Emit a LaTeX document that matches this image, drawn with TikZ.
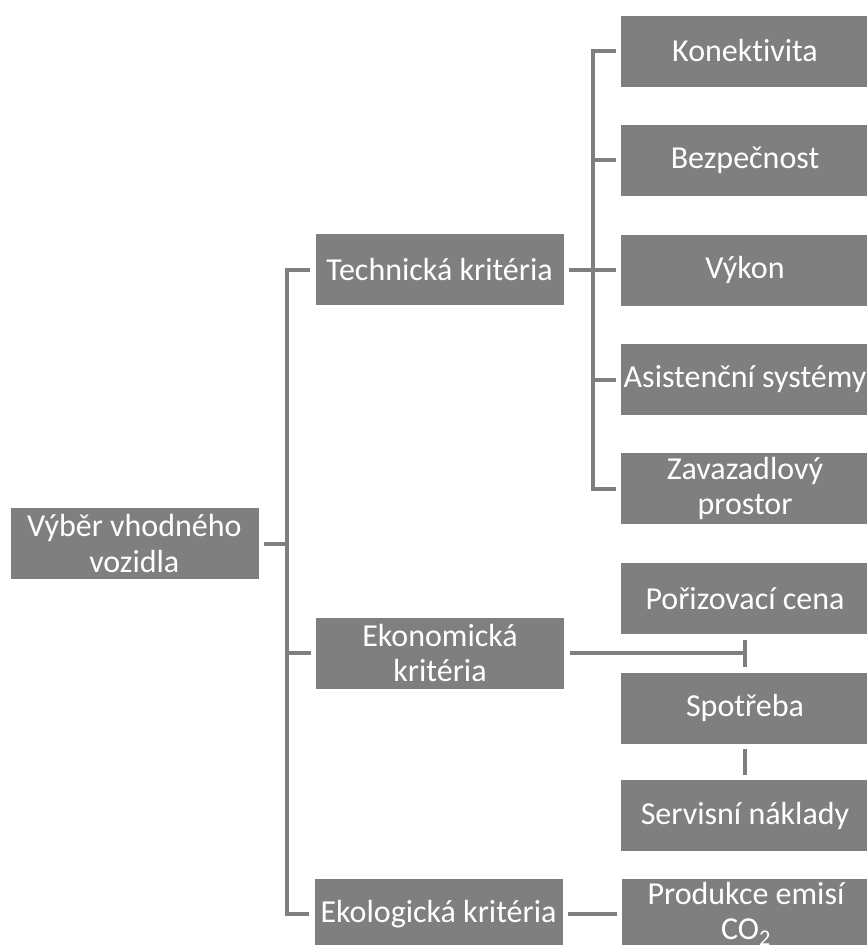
\documentclass[tikz,border=0pt]{standalone}
\usepackage{fontspec}
\setmainfont[Ligatures=NoCommon]{Carlito}
\definecolor{boxgray}{HTML}{7F7F7F}
\tikzset{
  box/.style={rectangle, fill=boxgray, draw=white, line width=0.6pt, text=white,
    minimum width=249pt, minimum height=72pt, inner sep=0pt, outer sep=5pt,
    align=center, font=\fontsize{32}{35.5}\selectfont},
  conn/.style={draw=boxgray, line width=4pt, line join=miter}
}
\begin{document}
\begin{tikzpicture}[x=1pt,y=-1pt]
\clip (0,0) rectangle (867,945);
\fill[white] (0,0) rectangle (867,945);
% nodes
\node[box] (root) at (134.3,543.5) {Výběr vhodného\\vozidla};
\node[box] (tech) at (439.5,269.5) {Technická kritéria};
\node[box] (econ) at (440,653) {Ekonomická\\kritéria};
\node[box] (eco) at (438.5,914) {Ekologická kritéria};
\node[box] (k1) at (745,51) {Konektivita};
\node[box] (k2) at (745,160) {Bezpečnost};
\node[box] (k3) at (745,270) {Výkon};
\node[box] (k4) at (745,379.5) {Asistenční systémy};
\node[box] (k5) at (745,488.5) {Zavazadlový\\prostor};
\node[box] (p1) at (745,598.5) {Pořizovací cena};
\node[box] (p2) at (745,708) {Spotřeba};
\node[box] (p3) at (745,815.5) {Servisní náklady};
\node[box] (pe) at (746,914) {Produkce emisí\\CO\textsubscript{2}};
% trunk coordinates
\coordinate (tr) at (287,0);
\coordinate (tv) at (593,0);
% root trunk
\draw[conn] (root.east) -- (root.east -| tr);
\draw[conn] (tech.west) -- (tech.west -| tr) -- (eco.west -| tr) -- (eco.west);
\draw[conn] (econ.west) -- (econ.west -| tr);
% technical branch
\draw[conn] (tech.east) -- (tech.east -| tv);
\draw[conn] (k1.west) -- (k1.west -| tv) -- (k5.west -| tv) -- (k5.west);
\draw[conn] (k2.west) -- (k2.west -| tv);
\draw[conn] (k3.west) -- (k3.west -| tv);
\draw[conn] (k4.west) -- (k4.west -| tv);
% economic branch
\draw[conn] (p1.south) -- (p2.north);
\draw[conn] (p2.south) -- (p3.north);
\draw[conn] (econ.east) -- (econ.east -| p1.south);
% ecological branch
\draw[conn] (eco.east) -- (pe.west);
\end{tikzpicture}
\end{document}
